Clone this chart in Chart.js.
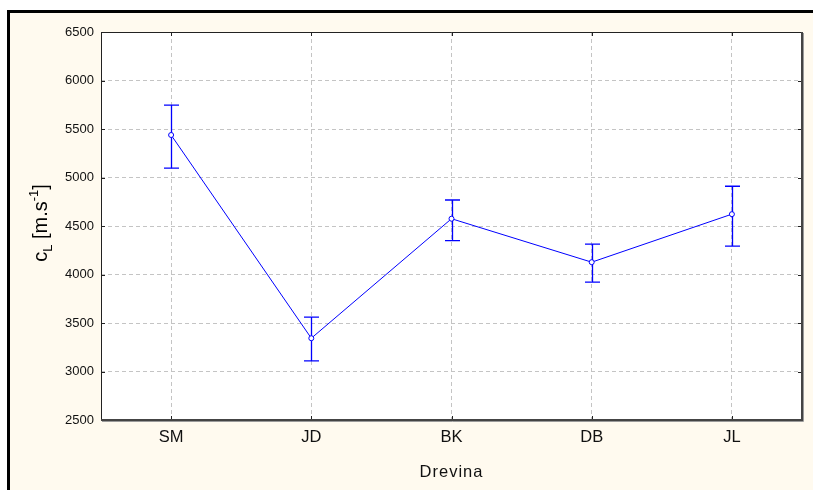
<!DOCTYPE html>
<html>
<head>
<meta charset="utf-8">
<script src="https://cdn.jsdelivr.net/npm/chart.js@4/dist/chart.umd.min.js"></script>
<style>
  html, body { margin: 0; padding: 0; background: #fff; }
  #wrap { position: relative; width: 813px; height: 490px; overflow: hidden; }
  #frame { position: absolute; left: 7px; top: 10px; right: 0; bottom: 0;
           border-top: 3px solid #000; border-left: 3px solid #000; background: #FFFAEF; }
  #c { position: absolute; left: 0; top: 0; }
</style>
</head>
<body>
<div id="wrap">
  <div id="frame"></div>
  <canvas id="c" width="813" height="490"></canvas>
</div>
<script>
const categories = ['SM', 'JD', 'BK', 'DB', 'JL'];
const means = [5438, 3343, 4575, 4127, 4622];
const upper = [5747, 3560, 4768, 4313, 4910];
const lower = [5097, 3110, 4350, 3922, 4292];
const yTicks = [2500, 3000, 3500, 4000, 4500, 5000, 5500, 6000, 6500];
const xTitle = 'Drevina';

const FONT = '"Liberation Sans", Arial, sans-serif';
const BLUE = '#0000FF';

// white plot area, error bars, frame with inward ticks, axis titles
const decor = {
  id: 'decor',
  beforeDraw(chart) {
    const { ctx, chartArea: a } = chart;
    ctx.save();
    ctx.fillStyle = '#fff';
    ctx.fillRect(a.left, a.top, a.right - a.left, a.bottom - a.top);
    ctx.restore();
  },
  beforeDatasetsDraw(chart) {
    const { ctx, scales: { x, y } } = chart;
    ctx.save();
    ctx.strokeStyle = BLUE;
    ctx.lineWidth = 1.3;
    categories.forEach((c, i) => {
      const px = Math.round(x.getPixelForValue(i)) + 0.5;
      const yt = y.getPixelForValue(upper[i]);
      const yb = y.getPixelForValue(lower[i]);
      ctx.beginPath();
      ctx.moveTo(px, yt); ctx.lineTo(px, yb);
      ctx.moveTo(px - 7.5, yt); ctx.lineTo(px + 7.5, yt);
      ctx.moveTo(px - 7.5, yb); ctx.lineTo(px + 7.5, yb);
      ctx.stroke();
    });
    ctx.restore();
  },
  afterDraw(chart) {
    const { ctx, chartArea: a, scales: { x, y } } = chart;
    ctx.save();
    ctx.strokeStyle = '#222';
    ctx.lineWidth = 1;
    // inward ticks
    ctx.beginPath();
    yTicks.forEach(v => {
      const py = Math.round(y.getPixelForValue(v)) + 0.5;
      ctx.moveTo(a.left, py); ctx.lineTo(a.left + 4, py);
      ctx.moveTo(a.right, py); ctx.lineTo(a.right - 4, py);
    });
    categories.forEach((c, i) => {
      const px = Math.round(x.getPixelForValue(i)) + 0.5;
      ctx.moveTo(px, a.top); ctx.lineTo(px, a.top + 4);
      ctx.moveTo(px, a.bottom); ctx.lineTo(px, a.bottom - 4);
    });
    ctx.stroke();
    // frame
    ctx.beginPath();
    ctx.moveTo(a.left + 0.5, a.bottom);
    ctx.lineTo(a.left + 0.5, a.top + 0.5);
    ctx.lineTo(a.right, a.top + 0.5);
    ctx.stroke();
    ctx.strokeStyle = '#444';
    ctx.lineWidth = 2;
    ctx.beginPath();
    ctx.moveTo(a.left, a.bottom);
    ctx.lineTo(a.right, a.bottom);
    ctx.lineTo(a.right, a.top);
    ctx.stroke();
    ctx.strokeStyle = '#9a9a9a';
    ctx.lineWidth = 1;
    ctx.beginPath();
    ctx.moveTo(a.left + 1, a.bottom + 1.5);
    ctx.lineTo(a.right + 1.5, a.bottom + 1.5);
    ctx.lineTo(a.right + 1.5, a.top + 1);
    ctx.stroke();

    // x title, letter-spaced
    ctx.fillStyle = '#111';
    ctx.font = '16.5px ' + FONT;
    ctx.letterSpacing = '1px';
    ctx.textAlign = 'center';
    ctx.textBaseline = 'alphabetic';
    ctx.fillText(xTitle, (a.left + a.right) / 2, 477);
    ctx.letterSpacing = '0px';
    ctx.textAlign = 'left';

    // y title: c_L [m.s^-1]
    ctx.translate(47, 223);
    ctx.rotate(-Math.PI / 2);
    ctx.fillStyle = '#000';
    const big = '20px ' + FONT, small = '13px ' + FONT;
    const parts = [
      { t: 'c', f: big, dy: 0 },
      { t: 'L', f: small, dy: 5 },
      { t: ' [m.s', f: big, dy: 0 },
      { t: '-1', f: small, dy: -9 },
      { t: ']', f: big, dy: 0 }
    ];
    let w = 0;
    parts.forEach(p => { ctx.font = p.f; p.w = ctx.measureText(p.t).width; w += p.w; });
    let cx = -w / 2;
    parts.forEach(p => { ctx.font = p.f; ctx.fillText(p.t, cx, p.dy); cx += p.w; });
    ctx.restore();
  }
};

new Chart(document.getElementById('c'), {
  type: 'line',
  data: {
    labels: categories,
    datasets: [{
      data: means,
      borderColor: BLUE,
      borderWidth: 1,
      pointRadius: 2.5,
      pointBorderWidth: 1,
      pointBackgroundColor: '#fff',
      pointBorderColor: BLUE,
      tension: 0
    }]
  },
  options: {
    responsive: false,
    animation: false,
    layout: { padding: { top: 32, right: 11, left: 0, bottom: 0 } },
    plugins: { legend: { display: false }, tooltip: { enabled: false } },
    scales: {
      x: {
        offset: true,
        grid: { offset: false, color: '#c4c4c4', drawTicks: false },
        border: { display: false, dash: [4, 3] },
        ticks: { color: '#111', font: { family: FONT, size: 16.5 }, padding: 8 },
        afterFit(s) { s.height = 70; }
      },
      y: {
        min: 2500, max: 6500,
        afterBuildTicks(s) { s.ticks = yTicks.map(v => ({ value: v })); },
        grid: { color: '#c4c4c4', drawTicks: false },
        border: { display: false, dash: [4, 3] },
        ticks: { color: '#111', font: { family: FONT, size: 13 }, padding: 7, callback: v => String(v) },
        afterFit(s) { s.width = 101; }
      }
    }
  },
  plugins: [decor]
});
</script>
</body>
</html>
